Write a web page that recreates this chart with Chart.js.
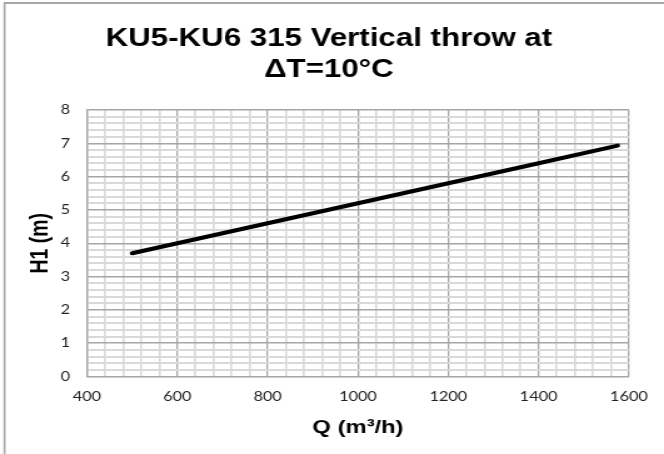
<!DOCTYPE html>
<html>
<head>
<meta charset="utf-8">
<script src="https://cdn.jsdelivr.net/npm/chart.js@4.4.1/dist/chart.umd.min.js"></script>
<style>
  html, body { margin: 0; padding: 0; background: #ffffff; overflow: hidden; }
  /* the chart is laid out narrower and widened horizontally to 664px */
  #wrap { position: relative; width: 531px; height: 454px; transform: scale(1.2505, 1); transform-origin: 0 0; }
</style>
</head>
<body>
<div id="wrap"><canvas id="chart" width="531" height="454"></canvas></div>
<script>
// Airflow Q (m³/h) and vertical throw H1 (m)
const flowRates = [500, 600, 800, 1000, 1200, 1400, 1575];
const throwHeights = [3.7, 4.0, 4.6, 5.2, 5.8, 6.4, 6.93];

const titleLines = ['KU5-KU6 315 Vertical throw at', 'ΔT=10°C'];
const xAxisTitle = 'Q (m³/h)';
const yAxisTitle = 'H1 (m)';

const xMin = 400, xMax = 1600, xMajor = 200, xMinor = 40;
const yMin = 0, yMax = 8, yMajor = 1, yMinor = 0.2;

const MAJOR_GRID = '#a6a6a6';
const MINOR_GRID = '#d9d9d9';

function isMultiple(v, step) {
  const r = v / step;
  return Math.abs(r - Math.round(r)) < 1e-6;
}

// White background with a thin frame along the left and top edges
const framePlugin = {
  id: 'frame',
  beforeDraw(chart) {
    const ctx = chart.ctx;
    ctx.save();
    ctx.fillStyle = '#ffffff';
    ctx.fillRect(0, 0, chart.width, chart.height);
    ctx.strokeStyle = '#a6a6a6';
    ctx.lineWidth = 1.6;
    ctx.beginPath();
    ctx.moveTo(3.6, chart.height);
    ctx.lineTo(3.6, 3);
    ctx.stroke();
    ctx.lineWidth = 2;
    ctx.beginPath();
    ctx.moveTo(3, 3);
    ctx.lineTo(chart.width, 3);
    ctx.stroke();
    ctx.restore();
  }
};

const points = flowRates.map((q, i) => ({ x: q, y: throwHeights[i] }));

new Chart(document.getElementById('chart'), {
  type: 'line',
  data: {
    datasets: [{
      data: points,
      borderColor: '#000000',
      borderWidth: 4,
      borderCapStyle: 'round',
      pointRadius: 0,
      tension: 0,
      fill: false
    }]
  },
  options: {
    responsive: false,
    animation: false,
    devicePixelRatio: 1,
    layout: { padding: { left: 0, right: 5, top: 0, bottom: 0 } },
    plugins: {
      legend: { display: false },
      tooltip: { enabled: false },
      title: {
        display: true,
        text: titleLines,
        color: '#000000',
        font: { family: '"Liberation Sans", Arial, sans-serif', size: 25, weight: 'bold', lineHeight: 1.24 },
        padding: { top: 24, bottom: 24 }
      }
    },
    scales: {
      x: {
        type: 'linear',
        min: xMin,
        max: xMax,
        afterFit(scale) { scale.height = 77.5; },
        border: { display: true, color: MAJOR_GRID, width: 1 },
        grid: {
          drawTicks: false,
          color: c => isMultiple(c.tick.value, xMajor) ? MAJOR_GRID : MINOR_GRID,
          lineWidth: c => isMultiple(c.tick.value, xMajor) ? 1.3 : 1.6
        },
        ticks: {
          stepSize: xMinor,
          autoSkip: false,
          maxRotation: 0,
          padding: 13,
          color: '#222222',
          font: { family: 'Lato, "Open Sans", sans-serif', size: 13 },
          callback: v => isMultiple(v, xMajor) ? String(Math.round(v)) : ''
        },
        title: {
          display: true,
          text: xAxisTitle,
          color: '#000000',
          font: { family: '"Liberation Sans", Arial, sans-serif', size: 19, weight: 'bold' },
          padding: { top: 0, bottom: 15 }
        }
      },
      y: {
        type: 'linear',
        min: yMin,
        max: yMax,
        afterFit(scale) { scale.width = 69.6; },
        border: { display: true, color: MAJOR_GRID, width: 1.3 },
        grid: {
          drawTicks: false,
          color: c => isMultiple(c.tick.value, yMajor) ? MAJOR_GRID : MINOR_GRID,
          lineWidth: c => isMultiple(c.tick.value, yMajor) ? 1.5 : 2
        },
        ticks: {
          stepSize: yMinor,
          autoSkip: false,
          padding: 13.6,
          color: '#222222',
          font: { family: 'Lato, "Open Sans", sans-serif', size: 13 },
          callback: v => isMultiple(v, yMajor) ? String(Math.round(v)) : ''
        },
        title: {
          display: true,
          text: yAxisTitle,
          color: '#000000',
          font: { family: '"Liberation Sans", Arial, sans-serif', size: 19.5, weight: 'bold' },
          padding: { top: 20.6, bottom: 0 }
        }
      },
      // empty margin on the right of the plot area
      yRight: {
        type: 'linear',
        position: 'right',
        min: yMin,
        max: yMax,
        afterFit(scale) { scale.width = 19.6; },
        border: { display: false },
        grid: { display: false, drawTicks: false },
        ticks: { display: false }
      }
    }
  },
  plugins: [framePlugin]
});
</script>
</body>
</html>
